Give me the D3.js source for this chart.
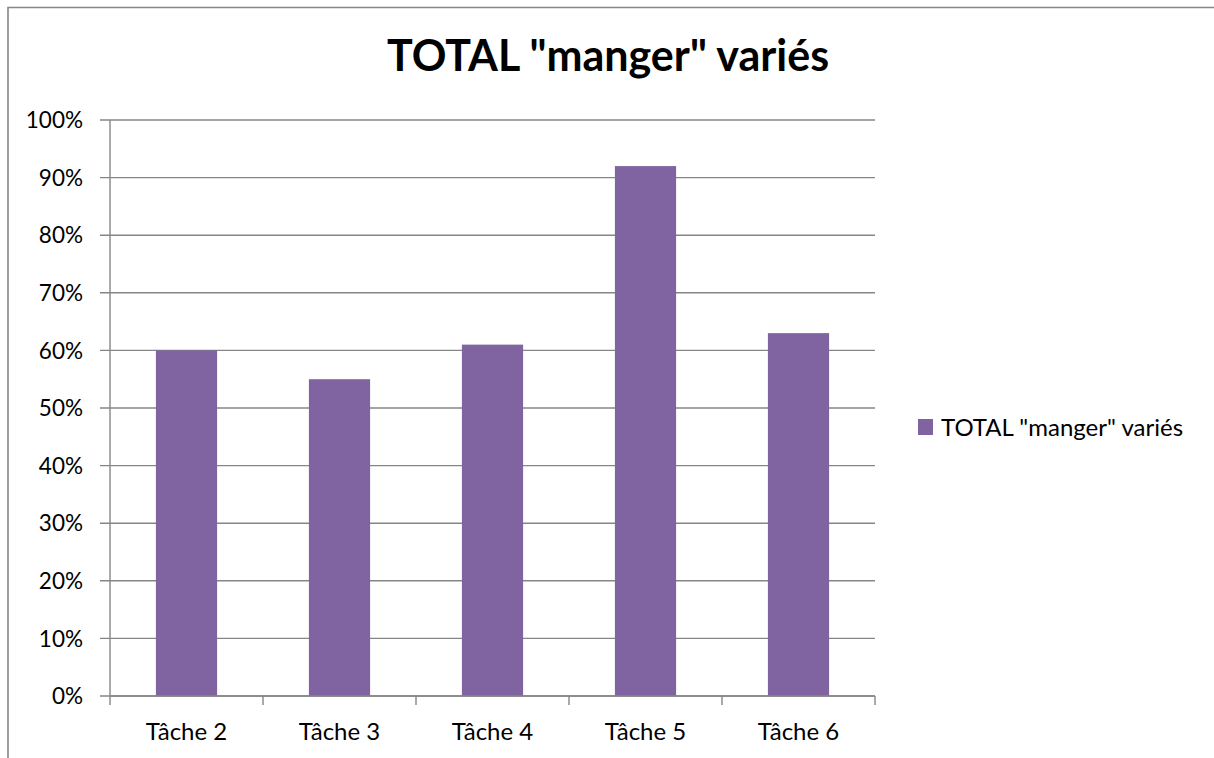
<!DOCTYPE html>
<html>
<head>
<meta charset="utf-8">
<script src="https://cdn.jsdelivr.net/npm/d3@7"></script>
<style>
    body { margin: 0; background: #fff; }
    svg text { font-family: Lato, "Open Sans", sans-serif; fill: #000; }
    .grid line { stroke: #868686; stroke-width: 1.4; }
</style>
</head>
<body>
<div class="panel"></div>
<script>

const categories = ["Tâche 2", "Tâche 3", "Tâche 4", "Tâche 5", "Tâche 6"];
const values = [0.60, 0.55, 0.61, 0.92, 0.63];
const yTicks = [0, 0.1, 0.2, 0.3, 0.4, 0.5, 0.6, 0.7, 0.8, 0.9, 1.0];
const seriesName = "TOTAL \"manger\" variés";
const chartTitle = "TOTAL \"manger\" variés";

const width = 1214;
const height = 758;
const margin = { top: 120, right: 339, bottom: 62, left: 110 };

const svg = d3.select(".panel").append("svg")
    .attr("width", width)
    .attr("height", height);

// Chart frame (only top and left visible)

svg.append("path")
    .attr("d", `M 8 ${ height } L 8 7.5 L ${ width } 7.5`)
    .attr("fill", "none")
    .attr("stroke", "#868686")
    .attr("stroke-width", 1.6);

// Scales

const x = d3.scaleBand()
    .domain(categories)
    .range([margin.left, width - margin.right])
    .padding(0);

const y = d3.scaleLinear()
    .domain([0, 1])
    .range([height - margin.bottom, margin.top]);

// Grid lines

const grid = svg.append("g").attr("class", "grid");

grid.selectAll("line")
    .data(yTicks)
    .join("line")
    .attr("x1", margin.left - 10)
    .attr("x2", width - margin.right)
    .attr("y1", d => y(d))
    .attr("y2", d => y(d));

svg.append("g")
    .selectAll("text")
    .data(yTicks)
    .join("text")
    .attr("x", 83)
    .attr("y", d => y(d))
    .attr("dy", "0.36em")
    .attr("text-anchor", "end")
    .style("font-size", "22.5px")
    .text(d => d3.format(".0%")(d));

// Bars

const barWidth = x.bandwidth() * 0.4;

svg.append("g")
    .selectAll("rect")
    .data(values)
    .join("rect")
    .attr("x", (d, i) => x(categories[i]) + (x.bandwidth() - barWidth) / 2)
    .attr("y", d => y(d))
    .attr("width", barWidth)
    .attr("height", d => y(0) - y(d))
    .attr("fill", "#8064A2");

// Axes

const x0 = y(0);

svg.append("line")
    .attr("x1", margin.left).attr("x2", margin.left)
    .attr("y1", margin.top).attr("y2", x0)
    .attr("stroke", "#868686").attr("stroke-width", 1.4);

svg.append("line")
    .attr("x1", margin.left).attr("x2", width - margin.right)
    .attr("y1", x0).attr("y2", x0)
    .attr("stroke", "#868686").attr("stroke-width", 1.4);

const xTickPos = categories.map(c => x(c)).concat([x.range()[1]]);

svg.append("g")
    .selectAll("line")
    .data(xTickPos)
    .join("line")
    .attr("x1", d => d).attr("x2", d => d)
    .attr("y1", x0).attr("y2", x0 + 9)
    .attr("stroke", "#868686").attr("stroke-width", 1.4);

svg.append("g")
    .selectAll("text")
    .data(categories)
    .join("text")
    .attr("x", d => x(d) + x.bandwidth() / 2)
    .attr("y", 740)
    .attr("text-anchor", "middle")
    .style("font-size", "24px")
    .text(d => d);

// Title

svg.append("text")
    .attr("x", 608)
    .attr("y", 71)
    .attr("text-anchor", "middle")
    .style("font-size", "43px")
    .style("font-weight", "bold")
    .text(chartTitle);

// Legend

const legend = svg.append("g")
    .attr("transform", "translate(918, 419)");

legend.append("rect")
    .attr("width", 15)
    .attr("height", 16)
    .attr("fill", "#8064A2");

legend.append("text")
    .attr("x", 23)
    .attr("y", 16.5)
    .style("font-size", "24px")
    .text(seriesName);

</script>
</body>
</html>
